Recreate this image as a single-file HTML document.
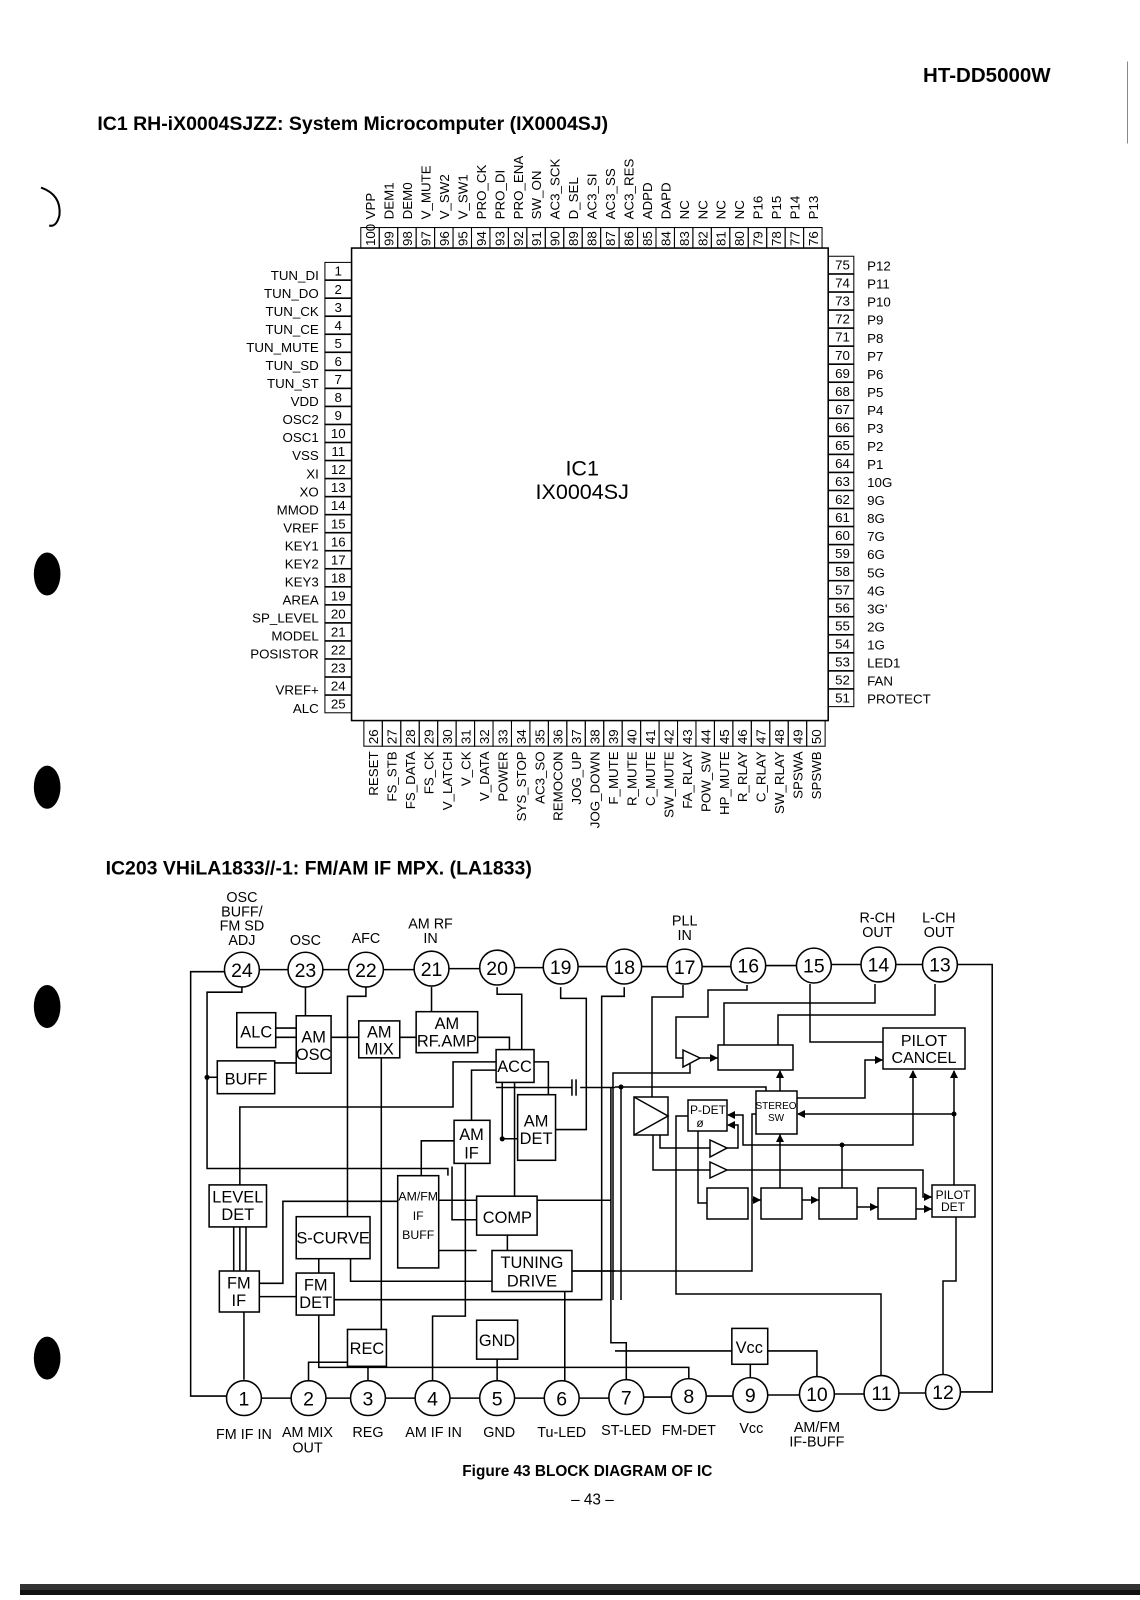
<!DOCTYPE html>
<html><head><meta charset="utf-8"><style>
html,body{margin:0;padding:0;background:#fff;}
svg{display:block;font-family:"Liberation Sans",sans-serif;}
</style></head><body>
<svg width="1140" height="1600" viewBox="0 0 1140 1600" xmlns="http://www.w3.org/2000/svg">
<rect width="1140" height="1600" fill="#fff"/>
<g transform="scale(1.025)">
<text x="1025" y="80" font-size="20" font-weight="bold" text-anchor="end">HT-DD5000W</text>
<line x1="1100" y1="60" x2="1100" y2="140" stroke="#888" stroke-width="1"/>
<text x="95" y="127" font-size="19" font-weight="bold">IC1 RH-iX0004SJZZ: System Microcomputer (IX0004SJ)</text>
<ellipse cx="46" cy="560" rx="13" ry="21" fill="#000"/>
<ellipse cx="46" cy="768" rx="13" ry="21" fill="#000"/>
<ellipse cx="46" cy="982" rx="13" ry="21" fill="#000"/>
<ellipse cx="46" cy="1325" rx="13" ry="21" fill="#000"/>
<path d="M40 183 Q60 190 58 210 Q55 222 48 220" fill="none" stroke="#000" stroke-width="2"/>

<rect x="343" y="242" width="465" height="461" fill="none" stroke="#000" stroke-width="1.5"/>
<text x="568" y="464" font-size="21" text-anchor="middle">IC1</text>
<text x="568" y="487" font-size="21" text-anchor="middle">IX0004SJ</text>

<g font-size="13">
<g transform="translate(352,0)"><rect x="0" y="222" width="18" height="20" fill="none" stroke="#000"/><text transform="translate(14,240) rotate(-90)">100</text><text transform="translate(14,214) rotate(-90)">VPP</text></g>
<g transform="translate(370,0)"><rect x="0" y="222" width="18" height="20" fill="none" stroke="#000"/><text transform="translate(14,240) rotate(-90)">99</text><text transform="translate(14,214) rotate(-90)">DEM1</text></g>
<g transform="translate(388,0)"><rect x="0" y="222" width="18" height="20" fill="none" stroke="#000"/><text transform="translate(14,240) rotate(-90)">98</text><text transform="translate(14,214) rotate(-90)">DEM0</text></g>
<g transform="translate(406,0)"><rect x="0" y="222" width="18" height="20" fill="none" stroke="#000"/><text transform="translate(14,240) rotate(-90)">97</text><text transform="translate(14,214) rotate(-90)">V_MUTE</text></g>
<g transform="translate(424,0)"><rect x="0" y="222" width="18" height="20" fill="none" stroke="#000"/><text transform="translate(14,240) rotate(-90)">96</text><text transform="translate(14,214) rotate(-90)">V_SW2</text></g>
<g transform="translate(442,0)"><rect x="0" y="222" width="18" height="20" fill="none" stroke="#000"/><text transform="translate(14,240) rotate(-90)">95</text><text transform="translate(14,214) rotate(-90)">V_SW1</text></g>
<g transform="translate(460,0)"><rect x="0" y="222" width="18" height="20" fill="none" stroke="#000"/><text transform="translate(14,240) rotate(-90)">94</text><text transform="translate(14,214) rotate(-90)">PRO_CK</text></g>
<g transform="translate(478,0)"><rect x="0" y="222" width="18" height="20" fill="none" stroke="#000"/><text transform="translate(14,240) rotate(-90)">93</text><text transform="translate(14,214) rotate(-90)">PRO_DI</text></g>
<g transform="translate(496,0)"><rect x="0" y="222" width="18" height="20" fill="none" stroke="#000"/><text transform="translate(14,240) rotate(-90)">92</text><text transform="translate(14,214) rotate(-90)">PRO_ENA</text></g>
<g transform="translate(514,0)"><rect x="0" y="222" width="18" height="20" fill="none" stroke="#000"/><text transform="translate(14,240) rotate(-90)">91</text><text transform="translate(14,214) rotate(-90)">SW_ON</text></g>
<g transform="translate(532,0)"><rect x="0" y="222" width="18" height="20" fill="none" stroke="#000"/><text transform="translate(14,240) rotate(-90)">90</text><text transform="translate(14,214) rotate(-90)">AC3_SCK</text></g>
<g transform="translate(550,0)"><rect x="0" y="222" width="18" height="20" fill="none" stroke="#000"/><text transform="translate(14,240) rotate(-90)">89</text><text transform="translate(14,214) rotate(-90)">D_SEL</text></g>
<g transform="translate(568,0)"><rect x="0" y="222" width="18" height="20" fill="none" stroke="#000"/><text transform="translate(14,240) rotate(-90)">88</text><text transform="translate(14,214) rotate(-90)">AC3_SI</text></g>
<g transform="translate(586,0)"><rect x="0" y="222" width="18" height="20" fill="none" stroke="#000"/><text transform="translate(14,240) rotate(-90)">87</text><text transform="translate(14,214) rotate(-90)">AC3_SS</text></g>
<g transform="translate(604,0)"><rect x="0" y="222" width="18" height="20" fill="none" stroke="#000"/><text transform="translate(14,240) rotate(-90)">86</text><text transform="translate(14,214) rotate(-90)">AC3_RES</text></g>
<g transform="translate(622,0)"><rect x="0" y="222" width="18" height="20" fill="none" stroke="#000"/><text transform="translate(14,240) rotate(-90)">85</text><text transform="translate(14,214) rotate(-90)">ADPD</text></g>
<g transform="translate(640,0)"><rect x="0" y="222" width="18" height="20" fill="none" stroke="#000"/><text transform="translate(14,240) rotate(-90)">84</text><text transform="translate(14,214) rotate(-90)">DAPD</text></g>
<g transform="translate(658,0)"><rect x="0" y="222" width="18" height="20" fill="none" stroke="#000"/><text transform="translate(14,240) rotate(-90)">83</text><text transform="translate(14,214) rotate(-90)">NC</text></g>
<g transform="translate(676,0)"><rect x="0" y="222" width="18" height="20" fill="none" stroke="#000"/><text transform="translate(14,240) rotate(-90)">82</text><text transform="translate(14,214) rotate(-90)">NC</text></g>
<g transform="translate(694,0)"><rect x="0" y="222" width="18" height="20" fill="none" stroke="#000"/><text transform="translate(14,240) rotate(-90)">81</text><text transform="translate(14,214) rotate(-90)">NC</text></g>
<g transform="translate(712,0)"><rect x="0" y="222" width="18" height="20" fill="none" stroke="#000"/><text transform="translate(14,240) rotate(-90)">80</text><text transform="translate(14,214) rotate(-90)">NC</text></g>
<g transform="translate(730,0)"><rect x="0" y="222" width="18" height="20" fill="none" stroke="#000"/><text transform="translate(14,240) rotate(-90)">79</text><text transform="translate(14,214) rotate(-90)">P16</text></g>
<g transform="translate(748,0)"><rect x="0" y="222" width="18" height="20" fill="none" stroke="#000"/><text transform="translate(14,240) rotate(-90)">78</text><text transform="translate(14,214) rotate(-90)">P15</text></g>
<g transform="translate(766,0)"><rect x="0" y="222" width="18" height="20" fill="none" stroke="#000"/><text transform="translate(14,240) rotate(-90)">77</text><text transform="translate(14,214) rotate(-90)">P14</text></g>
<g transform="translate(784,0)"><rect x="0" y="222" width="18" height="20" fill="none" stroke="#000"/><text transform="translate(14,240) rotate(-90)">76</text><text transform="translate(14,214) rotate(-90)">P13</text></g>
</g>

<g font-size="13">
<g transform="translate(0,256)"><rect x="317" y="0" width="26" height="17" fill="none" stroke="#000"/><text x="330" y="13" text-anchor="middle">1</text><text x="311" y="17" text-anchor="end">TUN_DI</text></g>
<g transform="translate(0,273.6)"><rect x="317" y="0" width="26" height="17" fill="none" stroke="#000"/><text x="330" y="13" text-anchor="middle">2</text><text x="311" y="17" text-anchor="end">TUN_DO</text></g>
<g transform="translate(0,291.2)"><rect x="317" y="0" width="26" height="17" fill="none" stroke="#000"/><text x="330" y="13" text-anchor="middle">3</text><text x="311" y="17" text-anchor="end">TUN_CK</text></g>
<g transform="translate(0,308.8)"><rect x="317" y="0" width="26" height="17" fill="none" stroke="#000"/><text x="330" y="13" text-anchor="middle">4</text><text x="311" y="17" text-anchor="end">TUN_CE</text></g>
<g transform="translate(0,326.4)"><rect x="317" y="0" width="26" height="17" fill="none" stroke="#000"/><text x="330" y="13" text-anchor="middle">5</text><text x="311" y="17" text-anchor="end">TUN_MUTE</text></g>
<g transform="translate(0,344)"><rect x="317" y="0" width="26" height="17" fill="none" stroke="#000"/><text x="330" y="13" text-anchor="middle">6</text><text x="311" y="17" text-anchor="end">TUN_SD</text></g>
<g transform="translate(0,361.6)"><rect x="317" y="0" width="26" height="17" fill="none" stroke="#000"/><text x="330" y="13" text-anchor="middle">7</text><text x="311" y="17" text-anchor="end">TUN_ST</text></g>
<g transform="translate(0,379.2)"><rect x="317" y="0" width="26" height="17" fill="none" stroke="#000"/><text x="330" y="13" text-anchor="middle">8</text><text x="311" y="17" text-anchor="end">VDD</text></g>
<g transform="translate(0,396.8)"><rect x="317" y="0" width="26" height="17" fill="none" stroke="#000"/><text x="330" y="13" text-anchor="middle">9</text><text x="311" y="17" text-anchor="end">OSC2</text></g>
<g transform="translate(0,414.4)"><rect x="317" y="0" width="26" height="17" fill="none" stroke="#000"/><text x="330" y="13" text-anchor="middle">10</text><text x="311" y="17" text-anchor="end">OSC1</text></g>
<g transform="translate(0,432)"><rect x="317" y="0" width="26" height="17" fill="none" stroke="#000"/><text x="330" y="13" text-anchor="middle">11</text><text x="311" y="17" text-anchor="end">VSS</text></g>
<g transform="translate(0,449.6)"><rect x="317" y="0" width="26" height="17" fill="none" stroke="#000"/><text x="330" y="13" text-anchor="middle">12</text><text x="311" y="17" text-anchor="end">XI</text></g>
<g transform="translate(0,467.2)"><rect x="317" y="0" width="26" height="17" fill="none" stroke="#000"/><text x="330" y="13" text-anchor="middle">13</text><text x="311" y="17" text-anchor="end">XO</text></g>
<g transform="translate(0,484.8)"><rect x="317" y="0" width="26" height="17" fill="none" stroke="#000"/><text x="330" y="13" text-anchor="middle">14</text><text x="311" y="17" text-anchor="end">MMOD</text></g>
<g transform="translate(0,502.4)"><rect x="317" y="0" width="26" height="17" fill="none" stroke="#000"/><text x="330" y="13" text-anchor="middle">15</text><text x="311" y="17" text-anchor="end">VREF</text></g>
<g transform="translate(0,520)"><rect x="317" y="0" width="26" height="17" fill="none" stroke="#000"/><text x="330" y="13" text-anchor="middle">16</text><text x="311" y="17" text-anchor="end">KEY1</text></g>
<g transform="translate(0,537.6)"><rect x="317" y="0" width="26" height="17" fill="none" stroke="#000"/><text x="330" y="13" text-anchor="middle">17</text><text x="311" y="17" text-anchor="end">KEY2</text></g>
<g transform="translate(0,555.2)"><rect x="317" y="0" width="26" height="17" fill="none" stroke="#000"/><text x="330" y="13" text-anchor="middle">18</text><text x="311" y="17" text-anchor="end">KEY3</text></g>
<g transform="translate(0,572.8)"><rect x="317" y="0" width="26" height="17" fill="none" stroke="#000"/><text x="330" y="13" text-anchor="middle">19</text><text x="311" y="17" text-anchor="end">AREA</text></g>
<g transform="translate(0,590.4)"><rect x="317" y="0" width="26" height="17" fill="none" stroke="#000"/><text x="330" y="13" text-anchor="middle">20</text><text x="311" y="17" text-anchor="end">SP_LEVEL</text></g>
<g transform="translate(0,608)"><rect x="317" y="0" width="26" height="17" fill="none" stroke="#000"/><text x="330" y="13" text-anchor="middle">21</text><text x="311" y="17" text-anchor="end">MODEL</text></g>
<g transform="translate(0,625.6)"><rect x="317" y="0" width="26" height="17" fill="none" stroke="#000"/><text x="330" y="13" text-anchor="middle">22</text><text x="311" y="17" text-anchor="end">POSISTOR</text></g>
<g transform="translate(0,643.2)"><rect x="317" y="0" width="26" height="17" fill="none" stroke="#000"/><text x="330" y="13" text-anchor="middle">23</text></g>
<g transform="translate(0,660.8)"><rect x="317" y="0" width="26" height="17" fill="none" stroke="#000"/><text x="330" y="13" text-anchor="middle">24</text><text x="311" y="17" text-anchor="end">VREF+</text></g>
<g transform="translate(0,678.4)"><rect x="317" y="0" width="26" height="17" fill="none" stroke="#000"/><text x="330" y="13" text-anchor="middle">25</text><text x="311" y="17" text-anchor="end">ALC</text></g>
</g>

<g font-size="13">
<g transform="translate(0,250)"><rect x="808" y="0" width="25" height="17" fill="none" stroke="#000"/><text x="822" y="13" text-anchor="middle">75</text><text x="846" y="14">P12</text></g>
<g transform="translate(0,267.6)"><rect x="808" y="0" width="25" height="17" fill="none" stroke="#000"/><text x="822" y="13" text-anchor="middle">74</text><text x="846" y="14">P11</text></g>
<g transform="translate(0,285.2)"><rect x="808" y="0" width="25" height="17" fill="none" stroke="#000"/><text x="822" y="13" text-anchor="middle">73</text><text x="846" y="14">P10</text></g>
<g transform="translate(0,302.8)"><rect x="808" y="0" width="25" height="17" fill="none" stroke="#000"/><text x="822" y="13" text-anchor="middle">72</text><text x="846" y="14">P9</text></g>
<g transform="translate(0,320.4)"><rect x="808" y="0" width="25" height="17" fill="none" stroke="#000"/><text x="822" y="13" text-anchor="middle">71</text><text x="846" y="14">P8</text></g>
<g transform="translate(0,338)"><rect x="808" y="0" width="25" height="17" fill="none" stroke="#000"/><text x="822" y="13" text-anchor="middle">70</text><text x="846" y="14">P7</text></g>
<g transform="translate(0,355.6)"><rect x="808" y="0" width="25" height="17" fill="none" stroke="#000"/><text x="822" y="13" text-anchor="middle">69</text><text x="846" y="14">P6</text></g>
<g transform="translate(0,373.2)"><rect x="808" y="0" width="25" height="17" fill="none" stroke="#000"/><text x="822" y="13" text-anchor="middle">68</text><text x="846" y="14">P5</text></g>
<g transform="translate(0,390.8)"><rect x="808" y="0" width="25" height="17" fill="none" stroke="#000"/><text x="822" y="13" text-anchor="middle">67</text><text x="846" y="14">P4</text></g>
<g transform="translate(0,408.4)"><rect x="808" y="0" width="25" height="17" fill="none" stroke="#000"/><text x="822" y="13" text-anchor="middle">66</text><text x="846" y="14">P3</text></g>
<g transform="translate(0,426)"><rect x="808" y="0" width="25" height="17" fill="none" stroke="#000"/><text x="822" y="13" text-anchor="middle">65</text><text x="846" y="14">P2</text></g>
<g transform="translate(0,443.6)"><rect x="808" y="0" width="25" height="17" fill="none" stroke="#000"/><text x="822" y="13" text-anchor="middle">64</text><text x="846" y="14">P1</text></g>
<g transform="translate(0,461.2)"><rect x="808" y="0" width="25" height="17" fill="none" stroke="#000"/><text x="822" y="13" text-anchor="middle">63</text><text x="846" y="14">10G</text></g>
<g transform="translate(0,478.8)"><rect x="808" y="0" width="25" height="17" fill="none" stroke="#000"/><text x="822" y="13" text-anchor="middle">62</text><text x="846" y="14">9G</text></g>
<g transform="translate(0,496.4)"><rect x="808" y="0" width="25" height="17" fill="none" stroke="#000"/><text x="822" y="13" text-anchor="middle">61</text><text x="846" y="14">8G</text></g>
<g transform="translate(0,514)"><rect x="808" y="0" width="25" height="17" fill="none" stroke="#000"/><text x="822" y="13" text-anchor="middle">60</text><text x="846" y="14">7G</text></g>
<g transform="translate(0,531.6)"><rect x="808" y="0" width="25" height="17" fill="none" stroke="#000"/><text x="822" y="13" text-anchor="middle">59</text><text x="846" y="14">6G</text></g>
<g transform="translate(0,549.2)"><rect x="808" y="0" width="25" height="17" fill="none" stroke="#000"/><text x="822" y="13" text-anchor="middle">58</text><text x="846" y="14">5G</text></g>
<g transform="translate(0,566.8)"><rect x="808" y="0" width="25" height="17" fill="none" stroke="#000"/><text x="822" y="13" text-anchor="middle">57</text><text x="846" y="14">4G</text></g>
<g transform="translate(0,584.4)"><rect x="808" y="0" width="25" height="17" fill="none" stroke="#000"/><text x="822" y="13" text-anchor="middle">56</text><text x="846" y="14">3G'</text></g>
<g transform="translate(0,602)"><rect x="808" y="0" width="25" height="17" fill="none" stroke="#000"/><text x="822" y="13" text-anchor="middle">55</text><text x="846" y="14">2G</text></g>
<g transform="translate(0,619.6)"><rect x="808" y="0" width="25" height="17" fill="none" stroke="#000"/><text x="822" y="13" text-anchor="middle">54</text><text x="846" y="14">1G</text></g>
<g transform="translate(0,637.2)"><rect x="808" y="0" width="25" height="17" fill="none" stroke="#000"/><text x="822" y="13" text-anchor="middle">53</text><text x="846" y="14">LED1</text></g>
<g transform="translate(0,654.8)"><rect x="808" y="0" width="25" height="17" fill="none" stroke="#000"/><text x="822" y="13" text-anchor="middle">52</text><text x="846" y="14">FAN</text></g>
<g transform="translate(0,672.4)"><rect x="808" y="0" width="25" height="17" fill="none" stroke="#000"/><text x="822" y="13" text-anchor="middle">51</text><text x="846" y="14">PROTECT</text></g>
</g>

<g font-size="13">
<g transform="translate(355,0)"><rect x="0" y="703" width="18" height="25" fill="none" stroke="#000"/><text transform="translate(14,726) rotate(-90)">26</text><text transform="translate(14,733) rotate(-90)" text-anchor="end">RESET</text></g>
<g transform="translate(373,0)"><rect x="0" y="703" width="18" height="25" fill="none" stroke="#000"/><text transform="translate(14,726) rotate(-90)">27</text><text transform="translate(14,733) rotate(-90)" text-anchor="end">FS_STB</text></g>
<g transform="translate(391,0)"><rect x="0" y="703" width="18" height="25" fill="none" stroke="#000"/><text transform="translate(14,726) rotate(-90)">28</text><text transform="translate(14,733) rotate(-90)" text-anchor="end">FS_DATA</text></g>
<g transform="translate(409,0)"><rect x="0" y="703" width="18" height="25" fill="none" stroke="#000"/><text transform="translate(14,726) rotate(-90)">29</text><text transform="translate(14,733) rotate(-90)" text-anchor="end">FS_CK</text></g>
<g transform="translate(427,0)"><rect x="0" y="703" width="18" height="25" fill="none" stroke="#000"/><text transform="translate(14,726) rotate(-90)">30</text><text transform="translate(14,733) rotate(-90)" text-anchor="end">V_LATCH</text></g>
<g transform="translate(445,0)"><rect x="0" y="703" width="18" height="25" fill="none" stroke="#000"/><text transform="translate(14,726) rotate(-90)">31</text><text transform="translate(14,733) rotate(-90)" text-anchor="end">V_CK</text></g>
<g transform="translate(463,0)"><rect x="0" y="703" width="18" height="25" fill="none" stroke="#000"/><text transform="translate(14,726) rotate(-90)">32</text><text transform="translate(14,733) rotate(-90)" text-anchor="end">V_DATA</text></g>
<g transform="translate(481,0)"><rect x="0" y="703" width="18" height="25" fill="none" stroke="#000"/><text transform="translate(14,726) rotate(-90)">33</text><text transform="translate(14,733) rotate(-90)" text-anchor="end">POWER</text></g>
<g transform="translate(499,0)"><rect x="0" y="703" width="18" height="25" fill="none" stroke="#000"/><text transform="translate(14,726) rotate(-90)">34</text><text transform="translate(14,733) rotate(-90)" text-anchor="end">SYS_STOP</text></g>
<g transform="translate(517,0)"><rect x="0" y="703" width="18" height="25" fill="none" stroke="#000"/><text transform="translate(14,726) rotate(-90)">35</text><text transform="translate(14,733) rotate(-90)" text-anchor="end">AC3_SO</text></g>
<g transform="translate(535,0)"><rect x="0" y="703" width="18" height="25" fill="none" stroke="#000"/><text transform="translate(14,726) rotate(-90)">36</text><text transform="translate(14,733) rotate(-90)" text-anchor="end">REMOCON</text></g>
<g transform="translate(553,0)"><rect x="0" y="703" width="18" height="25" fill="none" stroke="#000"/><text transform="translate(14,726) rotate(-90)">37</text><text transform="translate(14,733) rotate(-90)" text-anchor="end">JOG_UP</text></g>
<g transform="translate(571,0)"><rect x="0" y="703" width="18" height="25" fill="none" stroke="#000"/><text transform="translate(14,726) rotate(-90)">38</text><text transform="translate(14,733) rotate(-90)" text-anchor="end">JOG_DOWN</text></g>
<g transform="translate(589,0)"><rect x="0" y="703" width="18" height="25" fill="none" stroke="#000"/><text transform="translate(14,726) rotate(-90)">39</text><text transform="translate(14,733) rotate(-90)" text-anchor="end">F_MUTE</text></g>
<g transform="translate(607,0)"><rect x="0" y="703" width="18" height="25" fill="none" stroke="#000"/><text transform="translate(14,726) rotate(-90)">40</text><text transform="translate(14,733) rotate(-90)" text-anchor="end">R_MUTE</text></g>
<g transform="translate(625,0)"><rect x="0" y="703" width="18" height="25" fill="none" stroke="#000"/><text transform="translate(14,726) rotate(-90)">41</text><text transform="translate(14,733) rotate(-90)" text-anchor="end">C_MUTE</text></g>
<g transform="translate(643,0)"><rect x="0" y="703" width="18" height="25" fill="none" stroke="#000"/><text transform="translate(14,726) rotate(-90)">42</text><text transform="translate(14,733) rotate(-90)" text-anchor="end">SW_MUTE</text></g>
<g transform="translate(661,0)"><rect x="0" y="703" width="18" height="25" fill="none" stroke="#000"/><text transform="translate(14,726) rotate(-90)">43</text><text transform="translate(14,733) rotate(-90)" text-anchor="end">FA_RLAY</text></g>
<g transform="translate(679,0)"><rect x="0" y="703" width="18" height="25" fill="none" stroke="#000"/><text transform="translate(14,726) rotate(-90)">44</text><text transform="translate(14,733) rotate(-90)" text-anchor="end">POW_SW</text></g>
<g transform="translate(697,0)"><rect x="0" y="703" width="18" height="25" fill="none" stroke="#000"/><text transform="translate(14,726) rotate(-90)">45</text><text transform="translate(14,733) rotate(-90)" text-anchor="end">HP_MUTE</text></g>
<g transform="translate(715,0)"><rect x="0" y="703" width="18" height="25" fill="none" stroke="#000"/><text transform="translate(14,726) rotate(-90)">46</text><text transform="translate(14,733) rotate(-90)" text-anchor="end">R_RLAY</text></g>
<g transform="translate(733,0)"><rect x="0" y="703" width="18" height="25" fill="none" stroke="#000"/><text transform="translate(14,726) rotate(-90)">47</text><text transform="translate(14,733) rotate(-90)" text-anchor="end">C_RLAY</text></g>
<g transform="translate(751,0)"><rect x="0" y="703" width="18" height="25" fill="none" stroke="#000"/><text transform="translate(14,726) rotate(-90)">48</text><text transform="translate(14,733) rotate(-90)" text-anchor="end">SW_RLAY</text></g>
<g transform="translate(769,0)"><rect x="0" y="703" width="18" height="25" fill="none" stroke="#000"/><text transform="translate(14,726) rotate(-90)">49</text><text transform="translate(14,733) rotate(-90)" text-anchor="end">SPSWA</text></g>
<g transform="translate(787,0)"><rect x="0" y="703" width="18" height="25" fill="none" stroke="#000"/><text transform="translate(14,726) rotate(-90)">50</text><text transform="translate(14,733) rotate(-90)" text-anchor="end">SPSWB</text></g>
</g>

<text x="103" y="853" font-size="19" font-weight="bold">IC203 VHiLA1833//-1: FM/AM IF MPX. (LA1833)</text>

<g font-size="14" text-anchor="middle">
<text x="236" y="880">OSC</text><text x="236" y="894">BUFF/</text><text x="236" y="908">FM SD</text><text x="236" y="922">ADJ</text>
<text x="298" y="922">OSC</text><text x="357" y="920">AFC</text>
<text x="420" y="906">AM RF</text><text x="420" y="920">IN</text>
<text x="668" y="903">PLL</text><text x="668" y="917">IN</text>
<text x="856" y="900">R-CH</text><text x="856" y="914">OUT</text>
<text x="916" y="900">L-CH</text><text x="916" y="914">OUT</text>
</g>

<g stroke="#000" stroke-width="1.5" fill="none">
<polyline points="219,948 186,948 186,1362 221,1362"/>
<line x1="253" y1="946" x2="281" y2="946"/><line x1="315" y1="946" x2="340" y2="946"/>
<line x1="374" y1="946" x2="404" y2="946"/><line x1="438" y1="945" x2="468" y2="945"/>
<line x1="502" y1="944" x2="530" y2="944"/><line x1="564" y1="943" x2="592" y2="943"/>
<line x1="626" y1="943" x2="651" y2="943"/><line x1="685" y1="943" x2="713" y2="943"/>
<line x1="747" y1="942" x2="777" y2="942"/><line x1="811" y1="941" x2="840" y2="941"/>
<line x1="874" y1="941" x2="900" y2="941"/>
<polyline points="934,941 968,941 968,1358 937,1358"/>
<line x1="255" y1="1364" x2="284" y2="1364"/><line x1="318" y1="1364" x2="342" y2="1364"/>
<line x1="376" y1="1364" x2="405" y2="1364"/><line x1="439" y1="1364" x2="468" y2="1364"/>
<line x1="502" y1="1364" x2="531" y2="1364"/><line x1="565" y1="1364" x2="594" y2="1364"/>
<line x1="628" y1="1363" x2="655" y2="1363"/><line x1="689" y1="1362" x2="715" y2="1362"/>
<line x1="749" y1="1361" x2="780" y2="1361"/><line x1="814" y1="1360" x2="843" y2="1360"/>
<line x1="877" y1="1359" x2="903" y2="1359"/>

<polyline points="236,963 236,968 202,968 202,1140 437,1140 437,1147"/>
<line x1="202" y1="1051" x2="212" y2="1051"/>
<line x1="298" y1="963" x2="298" y2="991"/>
<line x1="269" y1="1003" x2="289" y2="1003"/><line x1="269" y1="1012" x2="289" y2="1012"/>
<line x1="268" y1="1037" x2="289" y2="1037"/>
<line x1="323" y1="1012" x2="350" y2="1012"/>
<line x1="390" y1="1012" x2="406" y2="1012"/>
<polyline points="357,963 357,972 339,972 339,1187"/>
<line x1="421" y1="963" x2="421" y2="987"/>
<polyline points="466,1012 497,1012 497,1024"/>
<polyline points="485,963 485,970 509,970 509,1024"/>
<polyline points="547,963 547,974 572,974 572,1102 542,1102"/>
<polyline points="609,963 609,972 587,972 587,1268 326,1268"/>
<polyline points="521,1036 535,1036 535,1068"/>
<polyline points="484,1036 442,1036 442,1080 234,1080 234,1156"/>
<polyline points="484,1044 460,1044 460,1093"/>
<polyline points="484,1055 490,1055 490,1111 505,1111"/>
<polyline points="502,1056 502,1167"/>
<line x1="484" y1="1061" x2="558" y2="1061"/><line x1="566" y1="1061" x2="600" y2="1061"/>
<line x1="558" y1="1053" x2="558" y2="1069"/><line x1="562" y1="1053" x2="562" y2="1069"/>
<polyline points="596,1061 596,1310 611,1310 611,1346"/>
<polyline points="443,1113 411,1113 411,1147"/>
<line x1="428" y1="1171" x2="596" y2="1171"/>
<polyline points="428,1220 465,1220"/>
<polyline points="441,1138 441,1190 465,1190"/>
<line x1="495" y1="1205" x2="495" y2="1220"/>
<line x1="558" y1="1240" x2="600" y2="1240"/>
<polyline points="311,1228 311,1242"/>
<polyline points="342,1228 342,1250 480,1250"/>
<line x1="228" y1="1197" x2="228" y2="1240"/><line x1="234" y1="1197" x2="234" y2="1240"/><line x1="240" y1="1197" x2="240" y2="1240"/>
<line x1="253" y1="1265" x2="289" y2="1265"/>
<polyline points="253,1252 276,1252 276,1172 388,1172"/>
<line x1="238" y1="1280" x2="238" y2="1346"/>
<polyline points="301,1347 301,1329 372,1329 372,1032"/>
<line x1="359" y1="1333" x2="359" y2="1347"/>
<polyline points="422,1347 422,1284 454,1284 454,1135"/>
<line x1="485" y1="1326" x2="485" y2="1347"/>
<line x1="551" y1="1260" x2="551" y2="1347"/>
<polyline points="311,1283 311,1334 672,1334 672,1346"/>
<line x1="732" y1="1331" x2="732" y2="1345"/>
<polyline points="797,1343 797,1318 600,1318"/>
</g>
<circle cx="202" cy="1051" r="2.5"/><circle cx="490" cy="1111" r="2.5"/>

<g stroke="#000" stroke-width="1.5" fill="#fff">
<circle cx="236" cy="946" r="17"/><circle cx="298" cy="946" r="17"/><circle cx="357" cy="946" r="17"/><circle cx="421" cy="945" r="17"/>
<circle cx="485" cy="944" r="17"/><circle cx="547" cy="943" r="17"/><circle cx="609" cy="943" r="17"/><circle cx="668" cy="943" r="17"/>
<circle cx="730" cy="942" r="17"/><circle cx="794" cy="942" r="17"/><circle cx="857" cy="941" r="17"/><circle cx="917" cy="941" r="17"/>
<circle cx="238" cy="1364" r="17"/><circle cx="301" cy="1364" r="17"/><circle cx="359" cy="1364" r="17"/><circle cx="422" cy="1364" r="17"/>
<circle cx="485" cy="1364" r="17"/><circle cx="548" cy="1364" r="17"/><circle cx="611" cy="1363" r="17"/><circle cx="672" cy="1362" r="17"/>
<circle cx="732" cy="1361" r="17"/><circle cx="797" cy="1360" r="17"/><circle cx="860" cy="1359" r="17"/><circle cx="920" cy="1358" r="17"/>
</g>
<g font-size="19" text-anchor="middle">
<text x="236" y="953">24</text><text x="298" y="953">23</text><text x="357" y="953">22</text><text x="421" y="952">21</text>
<text x="485" y="951">20</text><text x="547" y="950">19</text><text x="609" y="950">18</text><text x="668" y="950">17</text>
<text x="730" y="949">16</text><text x="794" y="949">15</text><text x="857" y="948">14</text><text x="917" y="948">13</text>
<text x="238" y="1371">1</text><text x="301" y="1371">2</text><text x="359" y="1371">3</text><text x="422" y="1371">4</text>
<text x="485" y="1371">5</text><text x="548" y="1371">6</text><text x="611" y="1370">7</text><text x="672" y="1369">8</text>
<text x="732" y="1368">9</text><text x="797" y="1367">10</text><text x="860" y="1366">11</text><text x="920" y="1365">12</text>
</g>

<g stroke="#000" stroke-width="1.5" fill="#fff">
<rect x="231" y="988" width="38" height="34"/>
<rect x="289" y="991" width="34" height="56"/>
<rect x="212" y="1035" width="56" height="32"/>
<rect x="350" y="996" width="40" height="36"/>
<rect x="406" y="987" width="60" height="40"/>
<rect x="484" y="1024" width="37" height="32"/>
<rect x="505" y="1068" width="37" height="64"/>
<rect x="443" y="1093" width="35" height="42"/>
<rect x="388" y="1147" width="40" height="90"/>
<rect x="465" y="1167" width="59" height="38"/>
<rect x="480" y="1220" width="78" height="40"/>
<rect x="289" y="1187" width="72" height="41"/>
<rect x="204" y="1156" width="56" height="41"/>
<rect x="214" y="1240" width="39" height="40"/>
<rect x="289" y="1242" width="37" height="41"/>
<rect x="339" y="1297" width="38" height="36"/>
<rect x="465" y="1288" width="40" height="38"/>
<rect x="714" y="1296" width="35" height="35"/>
</g>
<g font-size="16" text-anchor="middle">
<text x="250" y="1012">ALC</text>
<text x="306" y="1017">AM</text><text x="306" y="1034">OSC</text>
<text x="240" y="1058">BUFF</text>
<text x="370" y="1012">AM</text><text x="370" y="1029">MIX</text>
<text x="436" y="1004">AM</text><text x="436" y="1021">RF.AMP</text>
<text x="502" y="1046">ACC</text>
<text x="523" y="1099">AM</text><text x="523" y="1116">DET</text>
<text x="460" y="1112">AM</text><text x="460" y="1130">IF</text>
<text x="495" y="1193">COMP</text>
<text x="519" y="1237">TUNING</text><text x="519" y="1255">DRIVE</text>
<text x="325" y="1213">S-CURVE</text>
<text x="232" y="1173">LEVEL</text><text x="232" y="1190">DET</text>
<text x="233" y="1257">FM</text><text x="233" y="1274">IF</text>
<text x="308" y="1259">FM</text><text x="308" y="1276">DET</text>
<text x="358" y="1321">REC</text>
<text x="485" y="1313">GND</text>
<text x="731" y="1320">Vcc</text>
</g>
<g font-size="12" text-anchor="middle">
<text x="408" y="1171">AM/FM</text><text x="408" y="1190">IF</text><text x="408" y="1209">BUFF</text>
</g>

<g font-size="14" text-anchor="middle">
<text x="238" y="1404">FM IF IN</text>
<text x="300" y="1402">AM MIX</text><text x="300" y="1417">OUT</text>
<text x="359" y="1402">REG</text><text x="423" y="1402">AM IF IN</text>
<text x="487" y="1402">GND</text><text x="548" y="1402">Tu-LED</text>
<text x="611" y="1400">ST-LED</text><text x="672" y="1400">FM-DET</text>
<text x="733" y="1398">Vcc</text>
<text x="797" y="1397">AM/FM</text><text x="797" y="1411">IF-BUFF</text>
</g>
<text x="573" y="1440" font-size="15" font-weight="bold" text-anchor="middle">Figure 43 BLOCK DIAGRAM OF IC</text>
<text x="578" y="1468" font-size="15" text-anchor="middle">– 43 –</text>
</g>

<!-- right section, actual coords -->
<g stroke="#000" stroke-width="1.5" fill="none">
<polyline points="683,985 683,997 652,997 652,1097"/>
<polyline points="747,985 747,990 708,990 708,1017 676,1017 676,1058 683,1058"/>
<line x1="700" y1="1058" x2="718" y2="1058"/>
<polyline points="690,1064 690,1073 613,1073 613,1300"/>
<polyline points="875,984 875,1003 724,1003 724,1045"/>
<polyline points="935,984 935,1015 778,1015 778,1045"/>
<polyline points="810,984 810,1042 883,1042"/>
<polyline points="615,1087 766,1087 766,1091"/>
<line x1="621" y1="1087" x2="621" y2="1300"/>
<line x1="780" y1="1091" x2="780" y2="1071"/>
<polyline points="797,1098 865,1098 865,1060 883,1060"/>
<line x1="954" y1="1071" x2="954" y2="1185"/>
<line x1="954" y1="1114" x2="798" y2="1114"/>
<polyline points="913,1071 913,1145 743,1145 743,1115 728,1115"/>
<line x1="842" y1="1145" x2="842" y2="1188"/>
<polyline points="660,1135 660,1148 710,1148"/>
<polyline points="653,1135 653,1170 710,1170"/>
<polyline points="727,1148 738,1148 738,1125 728,1125"/>
<polyline points="727,1170 923,1170 923,1197 932,1197"/>
<polyline points="698,1131 698,1203 707,1203"/>
<polyline points="756,1114 752,1114 752,1271 572,1271"/>
<line x1="752" y1="1200" x2="761" y2="1200"/>
<line x1="802" y1="1200" x2="819" y2="1200"/>
<line x1="857" y1="1207" x2="878" y2="1207"/>
<line x1="916" y1="1209" x2="932" y2="1209"/>
<line x1="780" y1="1188" x2="780" y2="1134"/>
<polyline points="688,1116 676,1116 676,1294 881,1294 881,1375"/>
<polyline points="956,1217 956,1281 943,1281 943,1375"/>
</g>
<g fill="#000">
<circle cx="621" cy="1087" r="2.5"/><circle cx="954" cy="1114" r="2.5"/><circle cx="842" cy="1145" r="2.5"/>
<path d="M718 1058 l-8 -4 v8z"/><path d="M883 1060 l-8 -4 v8z"/><path d="M780 1070 l-4 8 h8z"/>
<path d="M954 1070 l-4 8 h8z"/><path d="M913 1070 l-4 8 h8z"/><path d="M797 1114 l8 -4 v8z"/>
<path d="M727 1115 l8 -4 v8z"/><path d="M727 1125 l8 -4 v8z"/><path d="M932 1197 l-8 -4 v8z"/>
<path d="M761 1200 l-8 -4 v8z"/><path d="M819 1200 l-8 -4 v8z"/><path d="M878 1207 l-8 -4 v8z"/><path d="M932 1209 l-8 -4 v8z"/>
<path d="M780 1134 l-4 8 h8z"/>
</g>
<g stroke="#000" stroke-width="1.5" fill="#fff">
<polygon points="683,1050 700,1058 683,1067"/>
<polygon points="710,1140 727,1148 710,1157"/>
<polygon points="710,1162 727,1170 710,1178"/>
<rect x="718" y="1045" width="75" height="25"/>
<rect x="883" y="1028" width="82" height="41"/>
<rect x="634" y="1097" width="34" height="38"/>
<rect x="688" y="1100" width="39" height="31"/>
<rect x="756" y="1091" width="41" height="43"/>
<rect x="707" y="1188" width="41" height="31"/>
<rect x="761" y="1188" width="41" height="31"/>
<rect x="819" y="1188" width="38" height="31"/>
<rect x="878" y="1188" width="38" height="31"/>
<rect x="932" y="1185" width="43" height="32"/>
</g>
<polyline points="634,1097 668,1116 634,1135" fill="none" stroke="#000" stroke-width="1.5"/>
<g font-size="16" text-anchor="middle">
<text x="924" y="1046">PILOT</text><text x="924" y="1063">CANCEL</text>
</g>
<g font-size="12" text-anchor="middle">
<text x="708" y="1114">P-DET</text><text x="700" y="1127">ø</text>
<text x="776" y="1109" font-size="10">STEREO</text><text x="776" y="1121" font-size="10">SW</text>
<text x="953" y="1199">PILOT</text><text x="953" y="1211">DET</text>
</g>
<rect x="20" y="1584" width="1120" height="10" fill="#333"/>
<rect x="20" y="1590" width="1120" height="5" fill="#111"/>
</svg>
</body></html>
